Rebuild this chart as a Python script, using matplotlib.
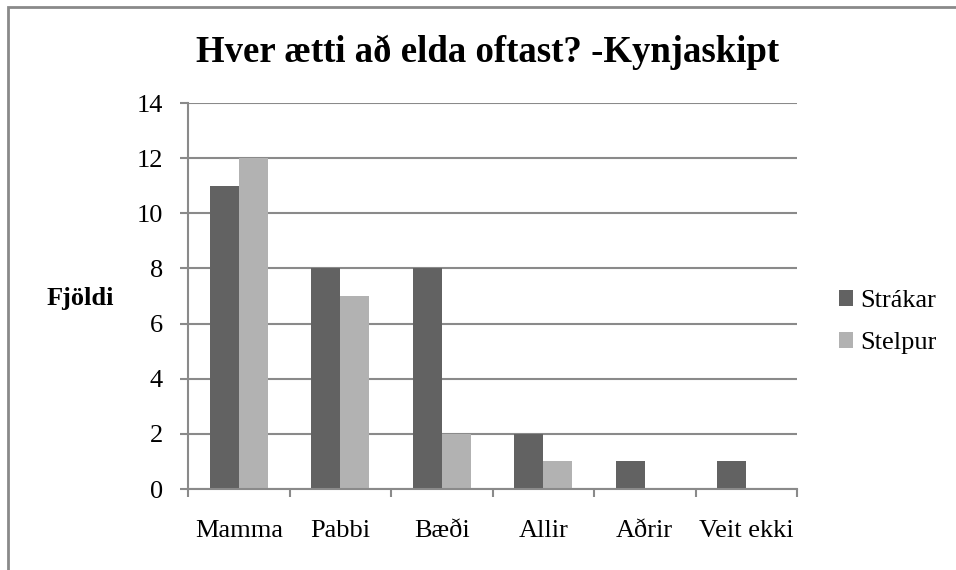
import numpy as np
import matplotlib.pyplot as plt
from matplotlib.patches import Rectangle

categories = ["Mamma", "Pabbi", "Bæði", "Allir", "Aðrir", "Veit ekki"]
strakar = [11, 8, 8, 2, 1, 1]
stelpur = [12, 7, 2, 1, 0, 0]
y_ticks = [0, 2, 4, 6, 8, 10, 12, 14]

plt.rcParams["font.family"] = ["Liberation Serif", "DejaVu Serif"]

dark = "#626262"
light = "#b2b2b2"
grid_col = "#8a8a8a"

W, H = 956, 570
fig = plt.figure(figsize=(W / 100, H / 100), dpi=100)

# outer chart border (cut off at right and bottom like the source)
fig.patches.append(Rectangle((8 / W, -0.1), 1.2, (H - 7) / H + 0.1,
                             transform=fig.transFigure, fill=False,
                             edgecolor=grid_col, linewidth=2.0))

ax = fig.add_axes([188 / W, (H - 489) / H, (797 - 188) / W, (489 - 103) / H])

x = np.arange(len(categories))
w = 0.285
ax.bar(x - w / 2, strakar, w, color=dark, label="Strákar")
ax.bar(x + w / 2, stelpur, w, color=light, label="Stelpur")

ax.set_xlim(-0.5, len(categories) - 0.5)
ax.set_ylim(0, 14)
ax.set_yticks(y_ticks)
ax.set_xticks(x)
ax.set_xticklabels(categories, fontsize=19)
ax.tick_params(axis="y", labelsize=19, length=6, color=grid_col, width=1.5, pad=12)
ax.tick_params(axis="x", length=0, pad=22)
# category boundary ticks
ax.set_xticks(np.arange(-0.5, len(categories)), minor=True)
ax.tick_params(axis="x", which="minor", length=6, color=grid_col, width=1.5)

ax.yaxis.grid(True, color=grid_col, linewidth=1.5)
ax.set_axisbelow(True)
for s in ["top", "right"]:
    ax.spines[s].set_visible(False)
for s in ["left", "bottom"]:
    ax.spines[s].set_color(grid_col)
    ax.spines[s].set_linewidth(1.5)

fig.text(488 / W, 1 - 62 / H, "Hver ætti að elda oftast? -Kynjaskipt",
         ha="center", va="baseline", fontsize=26.5, fontweight="bold")
fig.text(80 / W, 1 - 298 / H, "Fjöldi", ha="center", va="center",
         fontsize=19, fontweight="bold")

ax.legend(loc="center left", bbox_to_anchor=(839 / W, 1 - 322 / H),
          bbox_transform=fig.transFigure, frameon=False, fontsize=19,
          borderpad=0, borderaxespad=0,
          handlelength=0.54, handleheight=0.54, handletextpad=0.25, labelspacing=0.75)

fig.savefig("out.png", dpi=100)
